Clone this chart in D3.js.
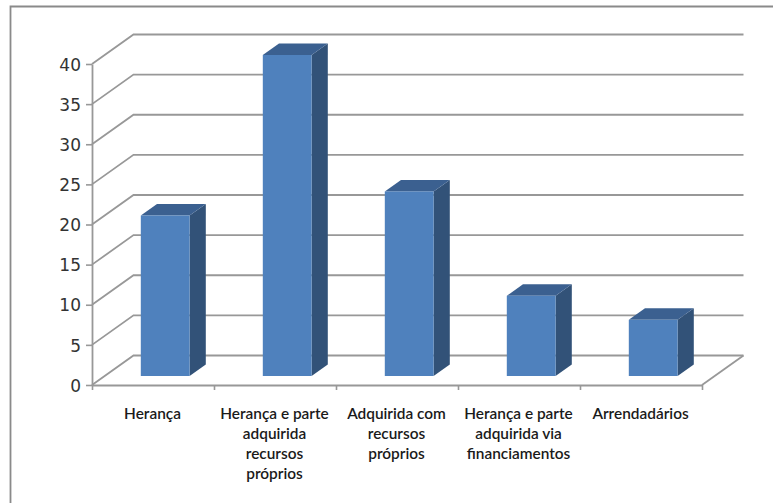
<!DOCTYPE html>
<html>
<head>
<meta charset="utf-8">
<script src="https://cdn.jsdelivr.net/npm/d3@7"></script>
<style>
  html, body { margin: 0; padding: 0; background: #fff; }
  svg { display: block; }
</style>
</head>
<body>
<script>
// Origem das terras: número de respostas por categoria
const categories = [
  "Herança",
  "Herança e parte adquirida recursos próprios",
  "Adquirida com recursos próprios",
  "Herança e parte adquirida via financiamentos",
  "Arrendadários"
];
const categoryLines = [
  ["Herança"],
  ["Herança e parte", "adquirida", "recursos", "próprios"],
  ["Adquirida com", "recursos", "próprios"],
  ["Herança e parte", "adquirida via", "financiamentos"],
  ["Arrendadários"]
];
const values = [20, 40, 23, 10, 7];
const yTicks = [0, 5, 10, 15, 20, 25, 30, 35, 40];

const width = 773, height = 503;
const svg = d3.select("body").append("svg").attr("width", width).attr("height", height);

const y = d3.scaleLinear().domain([0, 40]).range([385, 64]);
const x = d3.scaleBand().domain(categories).range([92, 702]);

// Projection of the chart floor: back wall offset and bar placement within the depth
const wall = { dx: 41.5, dy: -29.5 };
const barFront = { dx: 12.2, dy: -9 };
const barSide = { dx: 16.2, dy: -11.5 };
const barWidth = x.bandwidth() * 0.4;

const gridColor = "#989898";

// Outer chart frame, open towards the bottom and right
svg.append("path")
  .attr("d", `M10.5,${height}V6.5H${width}`)
  .attr("fill", "none").attr("stroke", "#8a8a8a").attr("stroke-width", 1.8);

// Gridlines: along the side wall, then along the back wall
const grid = svg.append("g").attr("fill", "none").attr("stroke", gridColor).attr("stroke-width", 1.8);
grid.selectAll("path").data(yTicks).join("path")
  .attr("d", d => `M${x.range()[0]},${y(d)}l${wall.dx},${wall.dy}H${x.range()[1] + wall.dx}`);

// Right edge of the floor
grid.append("path")
  .attr("d", `M${x.range()[1]},${y(0)}l${wall.dx},${wall.dy}`);

// Value axis
const yAxis = svg.append("g")
  .attr("transform", `translate(${x.range()[0]},0)`)
  .call(d3.axisLeft(y).tickValues(yTicks).tickSize(6).tickPadding(5).tickSizeOuter(0));
yAxis.select(".domain").attr("stroke", gridColor).attr("stroke-width", 1.8);
yAxis.selectAll("line").attr("stroke", gridColor).attr("stroke-width", 1.6);
yAxis.selectAll("text")
  .attr("font-family", "DejaVu Sans").attr("font-size", 17).attr("fill", "#333333")
  .attr("dy", "0.36em");

// Category axis with ticks on the band boundaries
const boundaries = d3.range(categories.length + 1);
const xEdge = d3.scaleLinear().domain([0, categories.length]).range(x.range());
const xAxis = svg.append("g")
  .attr("transform", `translate(0,${y(0)})`)
  .call(d3.axisBottom(xEdge).tickValues(boundaries).tickSize(5).tickFormat("").tickSizeOuter(0));
xAxis.select(".domain").attr("stroke", gridColor).attr("stroke-width", 1.8);
xAxis.selectAll("line").attr("stroke", gridColor).attr("stroke-width", 1.6);

// Bars: side, top and front faces
const bars = svg.append("g").selectAll("g").data(values).join("g");
const fx = (d, i) => x(categories[i]) + (x.bandwidth() - barWidth) / 2 + barFront.dx;
const by = y(0) + barFront.dy;
const fy = d => by - (y(0) - y(d));

bars.append("path").attr("fill", "#325278")
  .attr("d", (d, i) => {
    const r = fx(d, i) + barWidth;
    return `M${r},${by}V${fy(d)}l${barSide.dx},${barSide.dy}V${by + barSide.dy}Z`;
  });
bars.append("path").attr("fill", "#3b6090")
  .attr("d", (d, i) => {
    const l = fx(d, i);
    return `M${l},${fy(d)}l${barSide.dx},${barSide.dy}h${barWidth}l${-barSide.dx},${-barSide.dy}Z`;
  });
bars.append("rect").attr("fill", "#4f81bd")
  .attr("x", fx).attr("y", fy)
  .attr("width", barWidth)
  .attr("height", d => by - fy(d));

// Category labels
const labels = svg.append("g")
  .attr("font-family", "Lato").attr("font-size", 15.4).attr("font-weight", 600)
  .attr("fill", "#1a1a1a").attr("text-anchor", "middle");
labels.selectAll("text").data(categoryLines).join("text")
  .attr("transform", (d, i) => `translate(${x(categories[i]) + x.bandwidth() / 2 - 0.5},418.5)`)
  .selectAll("tspan").data(d => d).join("tspan")
  .attr("x", 0).attr("y", (d, i) => i * 20.3)
  .text(d => d);
</script>
</body>
</html>
